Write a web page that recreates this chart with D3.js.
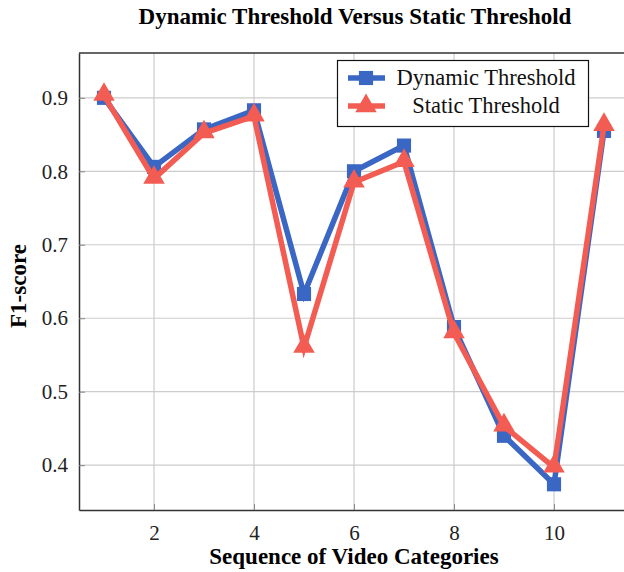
<!DOCTYPE html>
<html>
<head>
<meta charset="utf-8">
<script src="https://cdn.jsdelivr.net/npm/d3@7"></script>
<style>
  body { margin: 0; background: #fff; }
  svg { display: block; }
  text { font-family: "Liberation Serif", "DejaVu Serif", serif; }
</style>
</head>
<body>
<div id="chart"></div>
<script>
const categories = [1, 2, 3, 4, 5, 6, 7, 8, 9, 10, 11];
const dynamicVals = [0.900, 0.806, 0.857, 0.883, 0.633, 0.800, 0.835, 0.588, 0.440, 0.374, 0.855];
const staticVals  = [0.903, 0.790, 0.852, 0.875, 0.560, 0.785, 0.813, 0.580, 0.453, 0.397, 0.862];
const xTicks = [2, 4, 6, 8, 10];
const yTicks = [0.4, 0.5, 0.6, 0.7, 0.8, 0.9];

const W = 624, H = 572;
const pLeft = 79, pTop = 53, pRight = 629, pBottom = 510;
const serif = "'Liberation Serif', 'DejaVu Serif', serif";

const svg = d3.select("#chart").append("svg")
  .attr("width", W).attr("height", H);

const x = d3.scaleLinear().domain([0.5, 11.5]).range([pLeft, pRight]);
const y = d3.scaleLinear().domain([0.339, 0.961]).range([pBottom, pTop]);

// grid
svg.append("g").selectAll("line").data(xTicks).join("line")
  .attr("x1", d => x(d)).attr("x2", d => x(d))
  .attr("y1", pTop).attr("y2", pBottom)
  .attr("stroke", "#cccccc").attr("stroke-width", 1.2);
svg.append("g").selectAll("line").data(yTicks).join("line")
  .attr("x1", pLeft).attr("x2", pRight)
  .attr("y1", d => y(d)).attr("y2", d => y(d))
  .attr("stroke", "#cccccc").attr("stroke-width", 1.2);

// axes
const xAxis = d3.axisBottom(x).tickValues(xTicks).tickSizeInner(-6).tickSizeOuter(0).tickPadding(15);
const yAxis = d3.axisLeft(y).tickValues(yTicks).tickSizeInner(-6).tickSizeOuter(0).tickPadding(11)
  .tickFormat(d3.format(".1f"));

const gx = svg.append("g").attr("transform", `translate(0,${pBottom})`).call(xAxis);
const gy = svg.append("g").attr("transform", `translate(${pLeft},0)`).call(yAxis);
[gx, gy].forEach(g => {
  g.attr("font-family", null);
  g.select(".domain").attr("stroke", "#333").attr("stroke-width", 1.5);
  g.selectAll(".tick line").attr("stroke", "#888");
  g.selectAll(".tick text")
    .style("font-family", serif)
    .style("font-size", "21px").attr("fill", "#222");
});

// frame top
svg.append("line").attr("x1", pLeft).attr("x2", pRight).attr("y1", pTop).attr("y2", pTop)
  .attr("stroke", "#333").attr("stroke-width", 1.5);

const series = [
  {name: "Dynamic Threshold", values: dynamicVals, color: "#3a66c4", marker: "square"},
  {name: "Static Threshold", values: staticVals, color: "#f25c52", marker: "triangle"}
];

const line = d3.line().x((d, i) => x(categories[i])).y(d => y(d));
const symSquare = d3.symbol().type(d3.symbolSquare).size(200);
const symTri = d3.symbol().type(d3.symbolTriangle).size(200);

series.forEach(s => {
  const g = svg.append("g");
  g.append("path").datum(s.values)
    .attr("d", line).attr("fill", "none")
    .attr("stroke", s.color).attr("stroke-width", 5.5)
    .attr("stroke-linejoin", "miter");
  g.selectAll("path.m").data(s.values).join("path")
    .attr("class", "m")
    .attr("transform", (d, i) => `translate(${x(categories[i])},${y(d) + (s.marker === "triangle" ? -1 : 0)})`)
    .attr("d", s.marker === "square" ? symSquare() : symTri())
    .attr("fill", s.color);
});

// legend
const lg = svg.append("g");
lg.append("rect").attr("x", 337.5).attr("y", 60.5).attr("width", 251).attr("height", 66)
  .attr("fill", "#fff").attr("stroke", "#111").attr("stroke-width", 1.2);
series.forEach((s, i) => {
  const cy = 78 + i * 28;
  lg.append("line").attr("x1", 348).attr("x2", 385).attr("y1", cy).attr("y2", cy)
    .attr("stroke", s.color).attr("stroke-width", 5.5);
  lg.append("path")
    .attr("transform", `translate(366,${cy})`)
    .attr("d", s.marker === "square" ? symSquare() : symTri())
    .attr("fill", s.color);
  lg.append("text").attr("x", 486).attr("y", cy + 7)
    .attr("text-anchor", "middle")
    .style("font-family", serif)
    .style("font-size", "22.5px").attr("fill", "#111")
    .text(s.name);
});

// titles
svg.append("text").attr("x", 355).attr("y", 24).attr("text-anchor", "middle")
  .style("font-family", serif).attr("font-weight", "bold")
  .style("font-size", "23px").text("Dynamic Threshold Versus Static Threshold");

svg.append("text").attr("x", 354).attr("y", 564).attr("text-anchor", "middle")
  .style("font-family", serif).attr("font-weight", "bold")
  .style("font-size", "23px").text("Sequence of Video Categories");

svg.append("text")
  .attr("transform", "translate(26,286) rotate(-90)")
  .attr("text-anchor", "middle")
  .style("font-family", serif).attr("font-weight", "bold")
  .style("font-size", "23px").text("F1-score");
</script>
</body>
</html>
